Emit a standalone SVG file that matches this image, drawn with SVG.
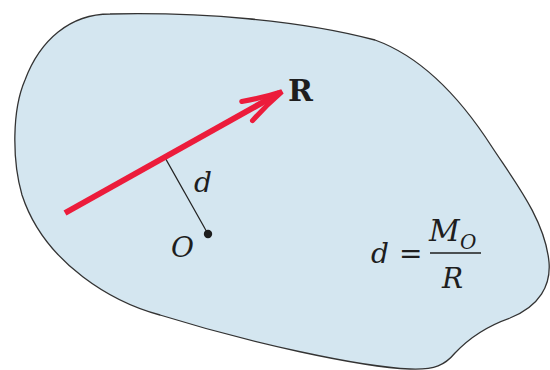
<svg xmlns="http://www.w3.org/2000/svg" width="550" height="370" viewBox="0 0 550 370">
  <style>
    .body { fill: #d4e6f0; stroke: #333333; stroke-width: 1.3; }
    .force { stroke: #ec1c3b; stroke-width: 6; fill: none; }
    .dim { stroke: #222222; stroke-width: 1.2; }
    .lbl { font-family: "DejaVu Serif", "Liberation Serif", serif; font-size: 28px; fill: #1e1e1e; }
    .it { font-style: italic; }
    .bf { font-weight: bold; }
  </style>
  <defs>
    <marker id="head" markerUnits="userSpaceOnUse" viewBox="-46 -16 52 32" markerWidth="52" markerHeight="32" refX="0" refY="0" orient="auto">
      <path d="M-37,-11 Q-17,-4 3,0 Q-17,4 -37,11" fill="none" stroke="#ec1c3b" stroke-width="5" stroke-linejoin="miter" stroke-linecap="round"/>
    </marker>
  </defs>
  <g id="body">
    <path class="body" d="M110,14 C200,12 300,20 375,40 C425,58 465,105 492,147 C515,182 545,220 549,262 C551,285 540,306 510,318 C490,325 470,337 455,353 C445,365 435,370 410,369 C360,367 250,343 160,315 C115,303 45,265 22,195 C12,160 12,110 25,80 C40,40 70,14 110,14 Z"/>
  </g>
  <g id="connectors">
    <line class="dim" x1="164.6" y1="156.9" x2="208" y2="234"/>
    <line class="force" x1="65" y1="213" x2="279.4" y2="93" marker-end="url(#head)"/>
  </g>
  <g id="point-O">
    <circle cx="208" cy="234" r="4.2" fill="#1e1e1e"/>
    <text class="lbl it" x="171" y="257">O</text>
  </g>
  <g id="label-R">
    <text class="lbl bf" x="288" y="101" style="font-size:30px">R</text>
  </g>
  <g id="label-d">
    <text class="lbl it" x="194" y="192">d</text>
  </g>
  <g id="formula">
    <text class="lbl it" x="371" y="263">d</text>
    <text class="lbl" x="399" y="263">=</text>
    <text class="lbl it" x="429" y="241" style="font-size:30px">M</text>
    <text class="lbl it" x="460" y="249" style="font-size:20px">O</text>
    <line x1="430" y1="253" x2="481" y2="253" stroke="#1e1e1e" stroke-width="1.5"/>
    <text class="lbl it" x="442" y="288">R</text>
  </g>
</svg>
